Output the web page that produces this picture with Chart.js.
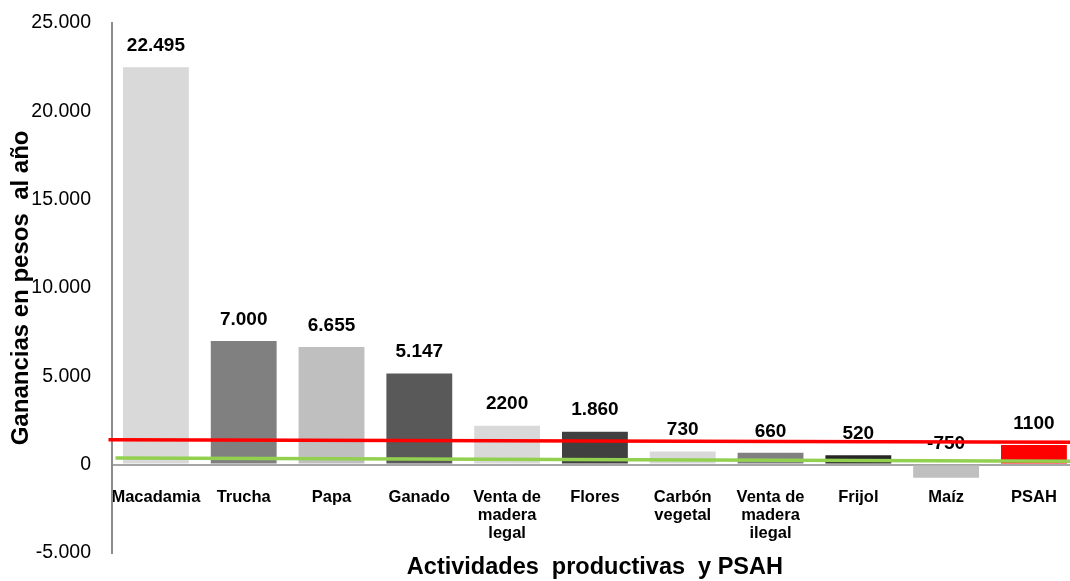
<!DOCTYPE html>
<html>
<head>
<meta charset="utf-8">
<script src="https://cdn.jsdelivr.net/npm/chart.js@4/dist/chart.umd.min.js"></script>
<style>
  html, body { margin: 0; padding: 0; background: #fff; overflow: hidden; }
  #wrap { width: 1081px; height: 581px; position: relative; }
</style>
</head>
<body>
<div id="wrap"><canvas id="chart"></canvas></div>
<script>
'use strict';
// ---------- Data ----------
const categories = [
    'Macadamia', 'Trucha', 'Papa', 'Ganado',
    ['Venta de', 'madera', 'legal'], 'Flores',
    ['Carbón', 'vegetal'], ['Venta de', 'madera', 'ilegal'],
    'Frijol', 'Maíz', 'PSAH',
];
const gains       = [22495, 7000, 6655, 5147, 2200, 1860, 730, 660, 520, -750, 1100];
const valueLabels = ['22.495', '7.000', '6.655', '5.147', '2200', '1.860', '730', '660', '520', '-750', '1100'];
const barColors   = ['#D9D9D9', '#808080', '#BFBFBF', '#595959', '#D9D9D9', '#404040',
                     '#D9D9D9', '#808080', '#262626', '#BFBFBF', '#FF0000'];

// reference lines, x in category units (0 = left edge of plot, 11 = right edge)
const redLineX   = [-0.04, 11];
const redLineY   = [1396, 1265];
const greenLineX = [0.04, 11];
const greenLineY = [366, 180];

const yTicks = { min: -5000, max: 25000, step: 5000 };

const FONT = 'Arial, "Liberation Sans", sans-serif';

function formatThousands(v) {
    return String(v).replace(/\B(?=(\d{3})+(?!\d))/g, '.');
}

// Value labels above each bar, drawn right after the bars (lines go on top)
const barLabels = {
    id: 'barLabels',
    afterDatasetDraw(chart, args) {
        if (args.index !== 0) return;
        const ctx = chart.ctx;
        ctx.save();
        ctx.font = 'bold 19px ' + FONT;
        ctx.fillStyle = '#000';
        ctx.textAlign = 'center';
        ctx.textBaseline = 'middle';
        args.meta.data.forEach((bar, i) => {
            const top = Math.min(bar.y, bar.base);
            ctx.fillText(valueLabels[i], bar.x, top - 21.5);
        });
        ctx.restore();
    },
};

const toPts = (xs, ys) => xs.map((x, i) => ({ x: x, y: ys[i] }));

new Chart(document.getElementById('chart'), {
    type: 'bar',
    data: {
        labels: categories,
        datasets: [
            {
                type: 'bar',
                data: gains,
                backgroundColor: barColors,
                barPercentage: 0.75,
                categoryPercentage: 1.0,
                grouped: false,
                order: 2,
            },
            {
                type: 'line',
                xAxisID: 'xl',
                data: toPts(redLineX, redLineY),
                borderColor: '#FF0000',
                borderWidth: 3.5,
                pointRadius: 0,
                clip: false,
                order: 1,
            },
            {
                type: 'line',
                xAxisID: 'xl',
                data: toPts(greenLineX, greenLineY),
                borderColor: '#92D050',
                borderWidth: 3.5,
                pointRadius: 0,
                clip: false,
                order: 0,
            },
        ],
    },
    options: {
        responsive: true,
        maintainAspectRatio: false,
        animation: false,
        layout: { padding: { top: 23, left: 0, right: 0, bottom: 0 } },
        plugins: {
            legend: { display: false },
            tooltip: { enabled: false },
            title: {
                display: true,
                position: 'bottom',
                fullSize: false,
                text: 'Actividades  productivas  y PSAH',
                color: '#000',
                font: { family: FONT, size: 23.5, weight: 'bold', lineHeight: 1.2 },
                padding: { top: 1, bottom: -1 },
            },
        },
        scales: {
            x: {
                type: 'category',
                position: { y: 0 },
                offset: true,
                grid: { display: false, drawTicks: false },
                border: { display: false },
                ticks: {
                    color: '#000',
                    font: { family: FONT, size: 16.5, weight: 'bold', lineHeight: 1.1 },
                    padding: 24,
                    maxRotation: 0,
                    autoSkip: false,
                },
            },
            xl: {
                type: 'linear',
                display: false,
                offset: false,
                min: 0,
                max: categories.length,
            },
            y: {
                min: yTicks.min,
                max: yTicks.max,
                ticks: {
                    stepSize: yTicks.step,
                    color: '#000',
                    font: { family: FONT, size: 19.5, lineHeight: 0.1 },
                    padding: 21,
                    callback: v => formatThousands(v),
                },
                grid: {
                    drawTicks: false,
                    lineWidth: 2,
                    color: c => (c.tick && c.tick.value === 0 ? '#A6A6A6' : 'rgba(0,0,0,0)'),
                },
                border: { color: '#8C8C8C', width: 2 },
                title: {
                    display: true,
                    text: 'Ganancias en pesos  al año',
                    color: '#000',
                    font: { family: FONT, size: 24, weight: 'bold', lineHeight: 1.2 },
                    padding: { top: 7, bottom: 0 },
                },
                afterFit: s => { s.width = 112; },
            },
        },
    },
    plugins: [barLabels],
});
</script>
</body>
</html>
